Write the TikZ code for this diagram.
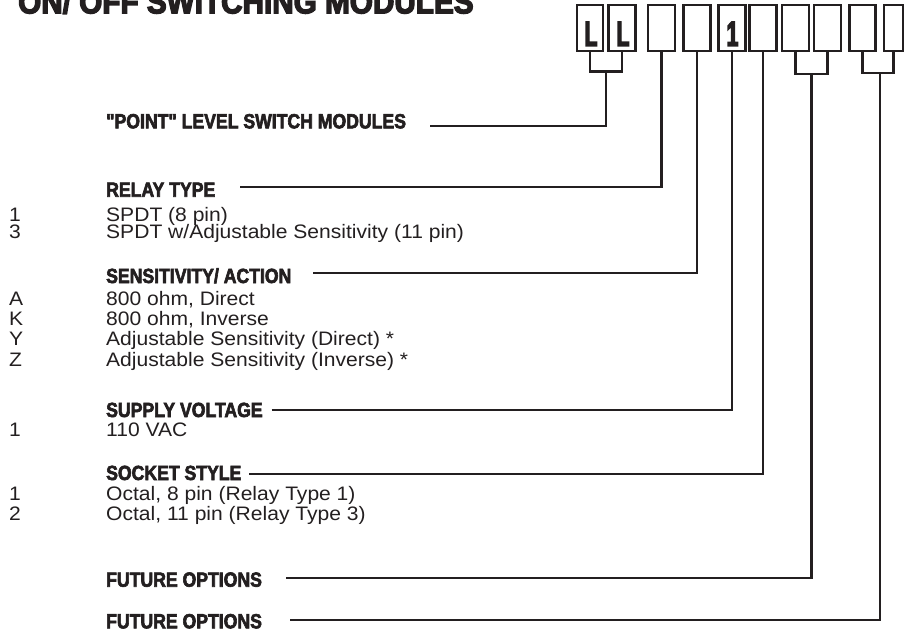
\documentclass[tikz,border=0pt]{standalone}
\usepackage{fontspec}
\setmainfont{Liberation Sans}[FakeStretch=1.08]
\newfontfamily\headfont{Liberation Sans}[FakeStretch=0.86, BoldFeatures={FakeBold=3}]
\newfontfamily\titlefont{Liberation Sans}[FakeStretch=0.9, BoldFeatures={FakeBold=4}]
\newfontfamily\boxfont{Liberation Sans}[FakeStretch=0.6, BoldFeatures={FakeBold=4}]
\definecolor{ink}{HTML}{231F20}
\begin{document}
\begin{tikzpicture}[x=1pt,y=-1pt,
  bx/.style={draw=ink, line width=2.8pt, minimum width=26pt, minimum height=46pt, inner sep=0pt},
  boxletter/.style={font=\boxfont\bfseries\fontsize{35}{35}\selectfont, text=ink, inner sep=0pt, anchor=base},
  head/.style={font=\headfont\bfseries\fontsize{20.5}{20.5}\selectfont, text=ink, inner sep=0pt, anchor=base west},
  body/.style={font=\fontsize{19.5}{19.5}\selectfont, text=ink, inner sep=0pt, anchor=base west},
  conn/.style={draw=ink, line width=2.2pt}
]
\useasboundingbox (0,0) rectangle (904,632);
% title
\node[inner sep=0pt, anchor=base west, text=ink, font=\titlefont\bfseries\fontsize{33}{33}\selectfont] (title) at (18,13.3) {ON/ OFF SWITCHING MODULES};
% code boxes
\node[bx] (box1) at (590,28) {};
\node[bx, minimum width=27pt] (box2) at (622,28) {};
\node[bx, minimum width=27pt] (box3) at (661.5,28) {};
\node[bx, minimum width=27pt] (box4) at (697,28) {};
\node[bx, minimum width=27pt] (box5) at (732,28) {};
\node[bx, minimum width=27pt] (box6) at (763,28) {};
\node[bx, minimum width=27pt] (box7) at (795.5,28) {};
\node[bx, minimum width=27pt] (box8) at (827.5,28) {};
\node[bx, minimum width=26pt] (box9) at (862.5,28) {};
\node[bx, minimum width=19pt] (box10) at (893.5,28) {};
\path (box1.south) ++(1,-6.5) node[boxletter] (l1) {L};
\path (box2.south) ++(1,-6.5) node[boxletter] (l2) {L};
\path (box5.south) ++(0.5,-6.5) node[boxletter] (l5) {1};
% junctions of brackets
\coordinate (j12) at (606,71.5);
\coordinate (j78) at (811.5,74);
\coordinate (j910) at (880,72.7);
\draw[conn] (box1.south) |- (j12) -| (box2.south);
\draw[conn] (box7.south) |- (j78) -| (box8.south);
\draw[conn] (box9.south) |- (j910) -| (box10.south);
% headings
\node[head] (h1) at (106,128.3) {"POINT" LEVEL SWITCH MODULES};
\node[head] (h2) at (106,196.7) {RELAY TYPE};
\node[head] (h3) at (106,283) {SENSITIVITY/ ACTION};
\node[head] (h4) at (106,417) {SUPPLY VOLTAGE};
\node[head] (h5) at (106,480) {SOCKET STYLE};
\node[head] (h6) at (106,586.7) {FUTURE OPTIONS};
\node[head] (h7) at (106,628.3) {FUTURE OPTIONS};
% connector start points
\coordinate (s1) at (430,125.7);
\coordinate (s2) at (240,187.3);
\coordinate (s3) at (313,273.3);
\coordinate (s4) at (271.7,410);
\coordinate (s5) at (249.3,474.3);
\coordinate (s6) at (286,577.7);
\coordinate (s7) at (290,620);
\draw[conn] (s1) -| (j12);
\draw[conn] (s2) -| (box3.south);
\draw[conn] (s3) -| (box4.south);
\draw[conn] (s4) -| (box5.south);
\draw[conn] (s5) -| (box6.south);
\draw[conn] (s6) -| (j78);
\draw[conn] (s7) -| (j910);
% relay type
\node[body] (c21) at (9,221.5) {1};
\node[body] (t21) at (106,221.5) {SPDT (8 pin)};
\node[body] (c22) at (9,238.8) {3};
\node[body] (t22) at (106,238.8) {SPDT w/Adjustable Sensitivity (11 pin)};
% sensitivity
\node[body] (c31) at (9,305) {A};
\node[body] (t31) at (106,305) {800 ohm, Direct};
\node[body] (c32) at (9,325) {K};
\node[body] (t32) at (106,325) {800 ohm, Inverse};
\node[body] (c33) at (9,345) {Y};
\node[body] (t33) at (106,345) {Adjustable Sensitivity (Direct) *};
\node[body] (c34) at (9,366) {Z};
\node[body] (t34) at (106,366) {Adjustable Sensitivity (Inverse) *};
% supply
\node[body] (c41) at (9,436.7) {1};
\node[body] (t41) at (106,436.7) {110 VAC};
% socket
\node[body] (c51) at (9,500) {1};
\node[body] (t51) at (106,500) {Octal, 8 pin (Relay Type 1)};
\node[body] (c52) at (9,520) {2};
\node[body] (t52) at (106,520) {Octal, 11 pin (Relay Type 3)};
\end{tikzpicture}
\end{document}
